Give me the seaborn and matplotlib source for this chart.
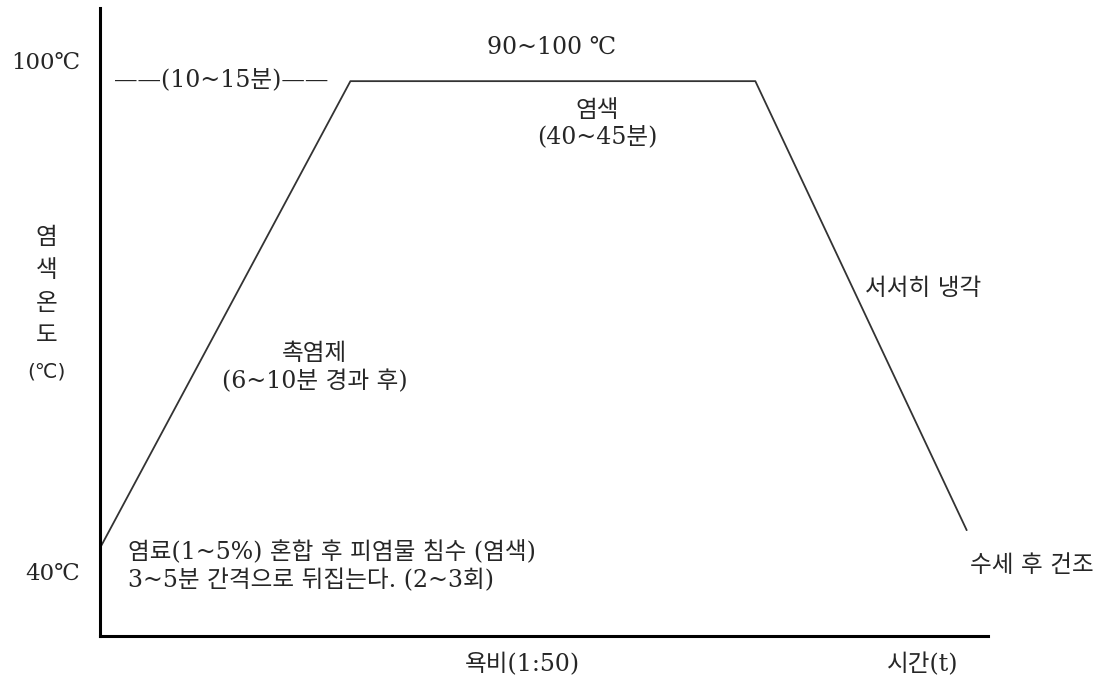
import matplotlib
matplotlib.use('Agg')
import matplotlib.pyplot as plt
import matplotlib.transforms as mtransforms
import seaborn as sns
import pandas as pd

# profile of the dyeing process (time in arbitrary units, temp in ℃)
time_pts = [0.0, 28.2, 73.8, 97.6]
temp_pts = [40.0, 100.0, 100.0, 42.3]

y_tick_vals = [100, 40]
y_tick_labels = ['100℃', '40℃']

sns.set_style('white')
# serif latin glyphs, hangul falls back to the CJK family
serif_kr = ['DejaVu Serif', 'Noto Sans CJK KR']
plt.rcParams['font.family'] = serif_kr

df = pd.DataFrame({'time': time_pts, 'temp': temp_pts})

fig = plt.figure(figsize=(11.19, 6.91), dpi=100)
ax = fig.add_axes([100 / 1119, 55 / 691, 888 / 1119, 628 / 691])

sns.lineplot(data=df, x='time', y='temp', ax=ax, color='#333333', linewidth=1.3,
             sort=False, estimator=None)

ax.set_xlim(0, 100)
ax.set_ylim(28.7, 109.4)
ax.set_xticks([])
ax.set_yticks([])
ax.set_xlabel('')
ax.set_ylabel('')
for side in ['top', 'right']:
    ax.spines[side].set_visible(False)
for side in ['left', 'bottom']:
    ax.spines[side].set_color('black')
    ax.spines[side].set_linewidth(2.2)

fs = 17
trans = mtransforms.blended_transform_factory(ax.transAxes, ax.transData)
for v, lab in zip(y_tick_vals, y_tick_labels):
    ax.text(-0.022, v + (2.4 if v == 100 else -3.3), lab, transform=trans,
            ha='right', va='center', fontsize=fs - 0.5, clip_on=False)

# y axis label (vertical stack)
ax.text(-0.06, 73.6, '염\n색\n온\n도', transform=trans, ha='center', va='center',
        fontsize=fs, linespacing=1.55, clip_on=False,
        family=['Noto Sans CJK KR', 'DejaVu Sans'])
ax.text(-0.06, 62.6, '(℃)', transform=trans, ha='center', va='center',
        fontsize=fs - 2.5, clip_on=False, family=['DejaVu Sans'])

ax.text(50.9, 104.4, '90~100 ℃', ha='center', va='center', fontsize=fs)
ax.text(13.7, 100.1, '——(10~15분)——', ha='center', va='center', fontsize=fs)
ax.text(56.0, 94.5, '염색\n(40~45분)', ha='center', va='center', fontsize=fs,
        linespacing=1.25)
ax.text(86.1, 73.4, '서서히 냉각', ha='left', va='center', fontsize=fs)
ax.text(24.2, 63.2, '촉염제\n(6~10분 경과 후)', ha='center', va='center',
        fontsize=fs, linespacing=1.25)
ax.text(3.15, 37.7, '염료(1~5%) 혼합 후 피염물 침수 (염색)\n3~5분 간격으로 뒤집는다. (2~3회)',
        ha='left', va='center', fontsize=fs, linespacing=1.25)
ax.text(98.0, 37.7, '수세 후 건조', ha='left', va='center', fontsize=fs,
        clip_on=False)
ax.text(47.6, 25.0, '욕비(1:50)', ha='center', va='center', fontsize=fs,
        clip_on=False)
ax.text(92.6, 25.0, '시간(t)', ha='center', va='center', fontsize=fs,
        clip_on=False)

fig.savefig('out.png', dpi=100, facecolor='white')
